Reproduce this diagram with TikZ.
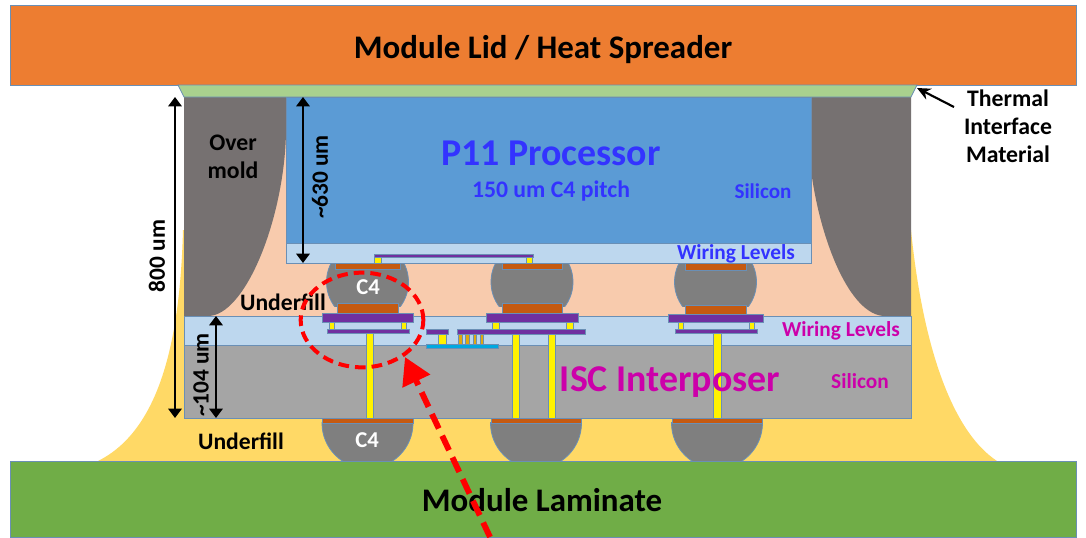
\documentclass[tikz,border=0pt]{standalone}
\usepackage{fontspec}
\setmainfont{Carlito}
\usetikzlibrary{arrows.meta,shapes.geometric}
\definecolor{lidc}{HTML}{ED7D31}
\definecolor{timc}{HTML}{A9D18E}
\definecolor{lamc}{HTML}{70AD47}
\definecolor{ufy}{HTML}{FFD966}
\definecolor{ufp}{HTML}{F8CBAD}
\definecolor{omc}{HTML}{767171}
\definecolor{chipc}{HTML}{5B9BD5}
\definecolor{wirec}{HTML}{BDD7EE}
\definecolor{sic}{HTML}{A5A5A5}
\definecolor{bumpc}{HTML}{7F7F7F}
\definecolor{padc}{HTML}{C55A11}
\definecolor{metc}{HTML}{7030A0}
\definecolor{edgec}{HTML}{6A8FB5}
\definecolor{pblue}{HTML}{3333FF}
\definecolor{pmag}{HTML}{CC00AA}
\definecolor{cyanc}{HTML}{00A8E0}
\definecolor{pillc}{HTML}{E0A810}
\tikzset{
  part/.style={draw=edgec,line width=0.6pt},
  lab/.style={font=\bfseries\fontsize{#1}{21}\selectfont,inner sep=0pt,align=center},
  dim/.style={draw=black,line width=1.6pt,{Triangle[length=7pt,width=10pt]}-{Triangle[length=7pt,width=10pt]}},
}
\newcommand{\topbump}[1]{%
  \begin{scope}\clip (#1-50,263) rectangle (#1+50,306);
  \fill[bumpc,draw=edgec,line width=0.6pt] (#1,282) circle (41);
  \end{scope}}
\newcommand{\lowbump}[1]{%
  \begin{scope}\clip (#1-50,422) rectangle (#1+50,461);
  \fill[bumpc,draw=edgec,line width=0.6pt] (#1,423) circle (45.5);
  \end{scope}}
\newcommand{\bx}[5]{\path[part,fill=#1] (#2,#3) rectangle (#4,#5);}
\begin{document}
\begin{tikzpicture}[x=0.75pt,y=-0.75pt]
\useasboundingbox (0,0) rectangle (1086,537);
\fill[white] (0,0) rectangle (1086,537);
% yellow underfill
\fill[ufy] (183,230) .. controls (180,340) and (160,430) .. (98,461) -- (997,461)
  .. controls (950,430) and (922,340) .. (911,230) -- cycle;
% peach underfill
\fill[ufp] (184,97) rectangle (911,316);
% overmold
\fill[omc] (184,97) -- (286,97) -- (286,133) .. controls (284,220) and (245,316) .. (208,316) -- (184,316) -- cycle;
\fill[omc] (911,97) -- (811,97) -- (811,170) .. controls (820,240) and (850,316) .. (885,316) -- (911,316) -- cycle;
% lower bumps
\lowbump{367.5}\lowbump{536}\lowbump{717}
% laminate, lid, TIM
\bx{lamc}{10}{461}{1076}{537}
\bx{lidc}{10}{5}{1076}{85}
\path[part,fill=timc] (178,85) -- (917,85) -- (911,97) -- (184,97) -- cycle;
% upper bumps
\topbump{367.5}\topbump{532}\topbump{715.5}
% chip
\bx{chipc}{286}{97}{811}{243}
\bx{wirec}{286}{243}{811}{263}
% interposer
\bx{wirec}{184}{316}{911}{345}
\bx{sic}{184}{345}{911}{418}
% top wire in the chip
\bx{metc}{374}{254}{533}{257}
\bx{yellow}{374}{257}{381}{263}
\bx{yellow}{526}{257}{532}{263}
% left stack
\bx{padc}{335}{263}{400}{269}
\bx{padc}{337}{303}{398}{313}
\bx{metc}{322}{313}{413}{322}
\bx{yellow}{329}{322}{334}{329}
\bx{yellow}{401}{322}{406}{329}
\bx{metc}{327}{329}{409}{333}
\bx{yellow}{366}{333}{373}{418}
% middle stack
\bx{padc}{502}{263}{562}{269}
\bx{padc}{502}{303}{562}{313}
\bx{metc}{486}{313}{578}{322}
\bx{yellow}{492}{322}{499}{329}
\bx{yellow}{566}{322}{573}{329}
\bx{metc}{457}{329}{585}{334}
\bx{yellow}{512}{334}{519}{418}
\bx{yellow}{548}{334}{555}{418}
% bridge between
\bx{cyanc}{426}{344}{498}{348}
\bx{metc}{426}{329}{448}{334}
\bx{yellow}{438}{334}{446}{344}
\bx{pillc}{458}{334}{462}{344}
\bx{pillc}{465}{334}{469}{344}
\bx{pillc}{473}{334}{476}{344}
\bx{pillc}{480}{334}{483}{344}
% right stack
\bx{padc}{685}{263}{746}{270}
\bx{padc}{685}{305}{746}{314}
\bx{metc}{668}{314}{763}{322}
\bx{yellow}{678}{322}{683}{329}
\bx{yellow}{749}{322}{754}{329}
\bx{metc}{675}{329}{757}{333}
\bx{yellow}{713}{333}{721}{418}
% lower pads
\bx{padc}{322}{418}{413}{423}
\bx{padc}{491}{418}{581}{423}
\bx{padc}{672}{418}{762}{423}
% dimension coordinates
\coordinate (a8t) at (175,97); \coordinate (a8b) at (175,418);
\coordinate (a6t) at (303,97); \coordinate (a6b) at (303,263);
\coordinate (a1t) at (216,316); \coordinate (a1b) at (216,418);
\coordinate (timtail) at (954,107); \coordinate (timtip) at (917,88);
\coordinate (redtail) at (490,537); \coordinate (redtip) at (405,357);
\draw[dim] (a8t) -- (a8b);
\draw[dim] (a6t) -- (a6b);
\draw[dim] (a1t) -- (a1b);
\draw[black,line width=1.6pt,-{Stealth[length=10pt,width=9pt]}] (timtail) -- (timtip);
% labels
\node[lab=24.7] (lidt) at (543,50) {Module Lid / Heat Spreader};
\node[lab=24.7] (lamt) at (542,500) {Module Laminate};
\node[lab=17.8] (timt) at (1008,126) {Thermal\\Interface\\Material};
\node[lab=17.8] (omt) at (233,157) {Over\\mold};
\node[lab=17.7] (uf1) at (283,302) {Underfill};
\node[lab=17.7] (uf2) at (241,441) {Underfill};
\node[lab=17,white] (c41) at (368,287) {C4};
\node[lab=17,white] (c42) at (367,440) {C4};
\node[lab=28.4,pblue] (p11) at (551,153) {P11 Processor};
\node[lab=17.8,pblue] (pitch) at (551,191) {150 um C4 pitch};
\node[lab=15.8,pblue] (si1) at (763,191) {Silicon};
\node[lab=16,pblue] (wl1) at (736,254) {Wiring Levels};
\node[lab=16,pmag] (wl2) at (841,331) {Wiring Levels};
\node[lab=28.4,pmag] (isc) at (670,382) {ISC Interposer};
\node[lab=16,pmag] (si2) at (860,381) {Silicon};
\node[lab=17.5,rotate=90] (d8) at (157,256) {800 um};
\node[lab=17.5,rotate=90] (d6) at (320,177) {\textasciitilde 630 um};
\node[lab=17.5,rotate=90] (d1) at (201,375) {\textasciitilde 104 um};
% red callout
\node[ellipse,draw=red,line width=3pt,dash pattern=on 8pt off 4.5pt,inner sep=0pt,minimum width=92pt,minimum height=71pt] (ring) at (362,320) {};
\draw[red,line width=4.4pt,dash pattern=on 12pt off 6pt,-{Triangle[length=20pt,width=22pt]}] (redtail) -- (redtip);
\end{tikzpicture}
\end{document}
